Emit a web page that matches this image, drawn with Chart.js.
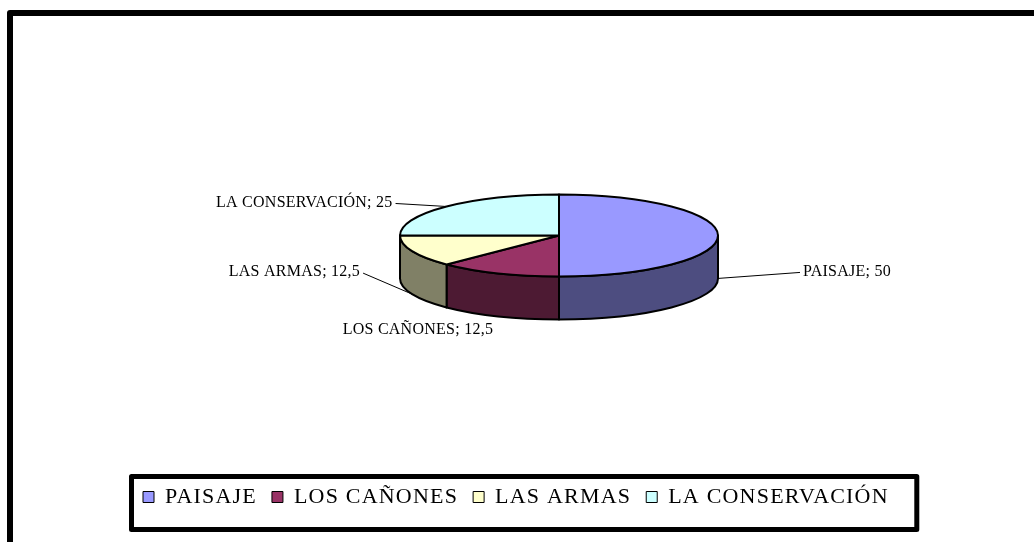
<!DOCTYPE html>
<html><head><meta charset="utf-8">
<script src="https://cdn.jsdelivr.net/npm/chart.js@4"></script>
<style>html,body{margin:0;padding:0;background:#fff;}canvas{display:block;}</style>
</head><body>
<canvas id="c" width="1034" height="542"></canvas>
<script>
const categories = ['PAISAJE', 'LOS CAÑONES', 'LAS ARMAS', 'LA CONSERVACIÓN'];
const values = [50, 12.5, 12.5, 25];
const valueLabels = ['50', '12,5', '12,5', '25'];
const topColors = ['#9999FF', '#993366', '#FFFFCC', '#CCFFFF'];

const SERIF = '"Liberation Serif", "Times New Roman", serif';

function darken(hex) {
  const n = parseInt(hex.slice(1), 16);
  const r = Math.round(((n >> 16) & 255) * 0.5);
  const g = Math.round(((n >> 8) & 255) * 0.5);
  const b = Math.round((n & 255) * 0.5);
  return 'rgb(' + r + ',' + g + ',' + b + ')';
}

const pie3d = {
  id: 'pie3d',
  beforeLayout(chart, args, opts) { chart.ctx.letterSpacing = opts.legendSpacing; },
  beforeDraw(chart, args, opts) {
    const ctx = chart.ctx;
    ctx.letterSpacing = opts.legendSpacing;
    ctx.save();
    ctx.strokeStyle = '#000';
    ctx.lineWidth = 6;
    ctx.lineJoin = 'round';
    ctx.strokeRect(10, 13, chart.width + 100, chart.height + 100);
    ctx.restore();
  },
  beforeDatasetsDraw(chart, args, opts) {
    const ctx = chart.ctx;
    const arcs = chart.getDatasetMeta(0).data;
    if (!arcs.length) return false;
    const cx = arcs[0].x, cy = arcs[0].y, rx = arcs[0].outerRadius;
    const ry = rx * opts.tilt, depth = rx * opts.depth;
    ctx.save();
    ctx.letterSpacing = '0px';
    ctx.lineWidth = 2;
    ctx.strokeStyle = '#000';
    ctx.lineJoin = 'round';
    // side walls (front half only)
    arcs.forEach((a) => {
      const s = a.startAngle, e = a.endAngle;
      for (let k = -1; k <= 1; k++) {
        const lo = Math.max(s, 2 * Math.PI * k), hi = Math.min(e, 2 * Math.PI * k + Math.PI);
        if (hi > lo) {
          ctx.beginPath();
          ctx.ellipse(cx, cy, rx, ry, 0, lo, hi, false);
          ctx.lineTo(cx + rx * Math.cos(hi), cy + depth + ry * Math.sin(hi));
          ctx.ellipse(cx, cy + depth, rx, ry, 0, hi, lo, true);
          ctx.closePath();
          ctx.fillStyle = darken(a.options.backgroundColor);
          ctx.fill();
          ctx.stroke();
        }
      }
    });
    // top faces
    arcs.forEach((a) => {
      ctx.beginPath();
      ctx.moveTo(cx, cy);
      ctx.ellipse(cx, cy, rx, ry, 0, a.startAngle, a.endAngle, false);
      ctx.closePath();
      ctx.fillStyle = a.options.backgroundColor;
      ctx.fill();
      ctx.stroke();
    });
    // data labels with leader lines
    ctx.font = '16px ' + SERIF;
    ctx.letterSpacing = opts.labelSpacing;
    ctx.fillStyle = '#000';
    ctx.textBaseline = 'middle';
    ctx.lineWidth = 1;
    arcs.forEach((a, i) => {
      const m = (a.startAngle + a.endAngle) / 2;
      const front = Math.sin(m) >= -1e-9;
      const ax = cx + rx * Math.cos(m);
      const ay = cy + ry * Math.sin(m) + (front ? depth : 0);
      const p = opts.labels[i];
      const tx = ax + p.dx, ty = ay + p.dy;
      const text = chart.data.labels[i] + '; ' + valueLabels[i];
      ctx.textAlign = p.align;
      ctx.fillText(text, tx, ty);
      if (p.leader) {
        const sx = p.align === 'left' ? tx - 3 : tx + 3;
        ctx.beginPath();
        ctx.moveTo(sx, ty + 1);
        ctx.lineTo(ax, ay);
        ctx.stroke();
      }
    });
    ctx.restore();
    return false;
  },
  afterDraw(chart) {
    const lg = chart.legend;
    const hb = lg.legendHitBoxes;
    if (!hb || !hb.length) return;
    const last = hb[hb.length - 1];
    const ctx = chart.ctx;
    ctx.save();
    ctx.strokeStyle = '#000';
    ctx.lineWidth = 5;
    ctx.lineJoin = 'round';
    const l = hb[0].left - 11.5, r = last.left + last.width + 28;
    const t = lg.top + 5.5, b = lg.bottom + 11.5;
    ctx.strokeRect(l, t, r - l, b - t);
    ctx.restore();
  }
};

new Chart(document.getElementById('c'), {
  type: 'pie',
  data: {
    labels: categories,
    datasets: [{
      data: values,
      backgroundColor: topColors,
      borderColor: '#000',
      borderWidth: 1,
      hoverOffset: 0,
      radius: 159
    }]
  },
  options: {
    responsive: false,
    animation: false,
    events: [],
    layout: { padding: { top: -3, left: 128, right: 44, bottom: 24 } },
    plugins: {
      tooltip: { enabled: false },
      legend: {
        position: 'bottom',
        align: 'start',
        labels: {
          font: { family: SERIF, size: 22 },
          color: '#000',
          boxWidth: 11,
          boxHeight: 11,
          padding: 15
        }
      },
      pie3d: {
        tilt: 0.258,
        depth: 0.27,
        legendSpacing: '1.2px',
        labelSpacing: '0.25px',
        labels: [
          { dx: 85, dy: -7, align: 'left', leader: true },
          { dx: -5, dy: 13, align: 'right', leader: false },
          { dx: -52, dy: -22, align: 'right', leader: true },
          { dx: -54, dy: -4, align: 'right', leader: true }
        ]
      }
    }
  },
  plugins: [pie3d]
});
</script>
</body></html>
